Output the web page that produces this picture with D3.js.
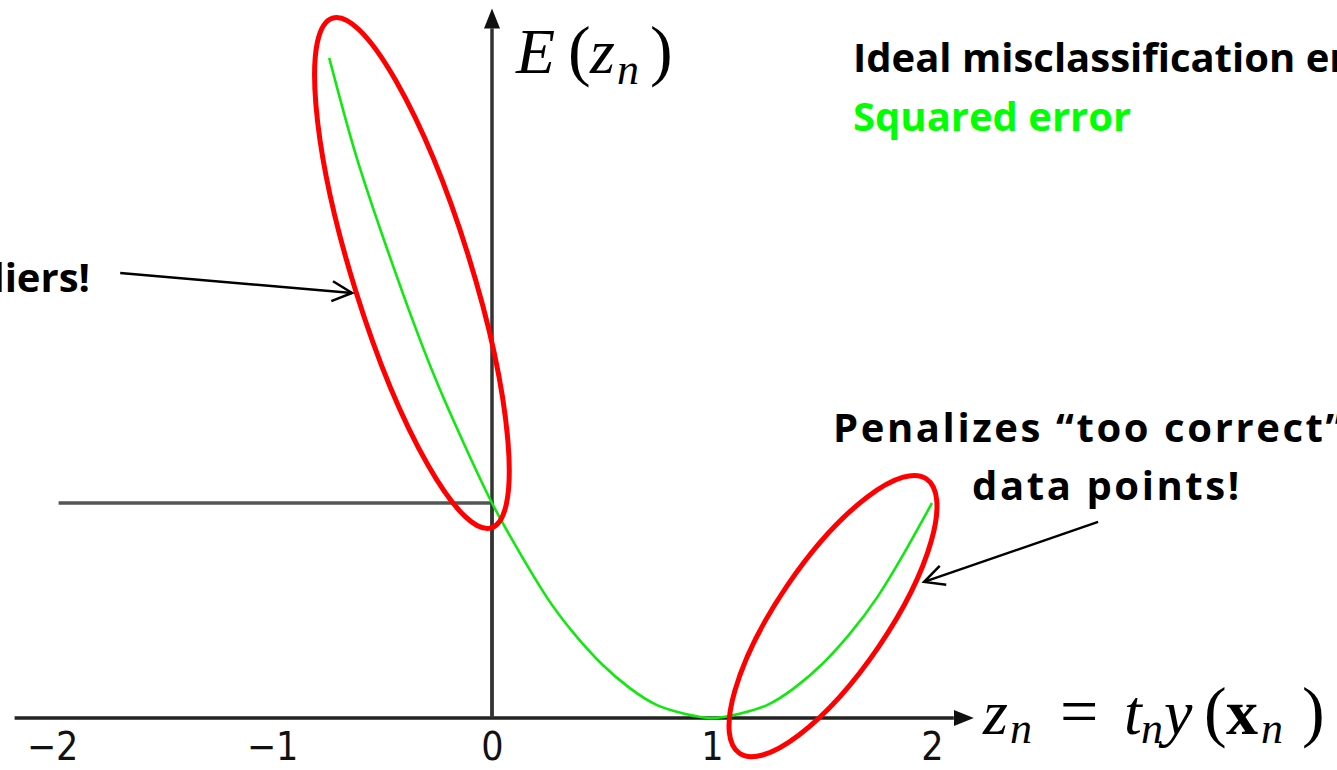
<!DOCTYPE html>
<html>
<head>
<meta charset="utf-8">
<script src="https://cdn.jsdelivr.net/npm/d3@7"></script>
<style>
  body { margin: 0; background: #fff; overflow: hidden; }
  .note { font-family: "Open Sans", "Noto Sans", sans-serif; font-weight: bold; font-size: 40px; }
  .wide { letter-spacing: 2.6px; }
  .math { font-family: "Liberation Serif", "DejaVu Serif", serif; font-size: 64px; fill: #000; }
  .tick text { font-family: "Liberation Sans Narrow", "DejaVu Sans Condensed", sans-serif; font-size: 39px; fill: #111; }
</style>
</head>
<body>
<div id="chart"></div>
<script>
// squared error (z_n -> E)
var sqZ = [-0.74, -0.625, -0.5, -0.375, -0.25, -0.125, 0, 0.125, 0.25, 0.375, 0.5, 0.625, 0.75, 0.875, 1, 1.125, 1.25, 1.375, 1.5, 1.625, 1.75, 1.875, 2];
var sqE = [3.07, 2.64, 2.25, 1.89, 1.56, 1.27, 1.00, 0.77, 0.56, 0.39, 0.25, 0.14, 0.06, 0.02, 0, 0.02, 0.06, 0.14, 0.25, 0.39, 0.56, 0.77, 1.00];

// ideal misclassification error (step), only the left part shows above the axes
var stepZ = [-1.97, 0, 0];
var stepE = [1, 1, 0];

var tickVals = [-2, -1, 0, 1, 2];
var tickLabels = ["\u22122", "\u22121", "0", "1", "2"];

// axis extents (arrow tips)
var xMin = -2.17, xMax = 2.19, yMax = 3.30;

// red circled regions: centre in data units
var ringZ = [-0.364, 1.55];
var ringE = [2.07, 0.474];
var ringRx = [267, 166];
var ringRy = [59, 55];
var ringAngle = [72.7, -55.7];

// annotation arrows: from -> to in data units
var arrowFromZ = [-1.69, 2.755], arrowFromE = [2.07, 0.912];
var arrowToZ = [-0.636, 1.964], arrowToE = [1.977, 0.633];

var width = 1337, height = 770;

var x = d3.scaleLinear().domain([-2, 2]).range([52, 932]);
var y = d3.scaleLinear().domain([0, 1]).range([718, 503]);

var svg = d3.select("#chart").append("svg")
    .attr("width", width)
    .attr("height", height);

var defs = svg.append("defs");
defs.append("marker")
    .attr("id", "tri")
    .attr("markerUnits", "userSpaceOnUse")
    .attr("viewBox", "0 -10 22 20")
    .attr("refX", 0).attr("refY", 0)
    .attr("markerWidth", 22).attr("markerHeight", 20)
    .attr("orient", "auto")
    .append("path")
    .attr("d", "M0,-8L20,0L0,8Z")
    .attr("fill", "#111");
defs.append("marker")
    .attr("id", "open")
    .attr("markerUnits", "userSpaceOnUse")
    .attr("viewBox", "-24 -14 28 28")
    .attr("refX", 0).attr("refY", 0)
    .attr("markerWidth", 28).attr("markerHeight", 28)
    .attr("orient", "auto")
    .append("path")
    .attr("d", "M-20,-10L0,0L-20,10")
    .attr("fill", "none")
    .attr("stroke", "#000")
    .attr("stroke-width", 2.5);

// step line
var stepPts = stepZ.map(function (z, i) { return [z, stepE[i]]; });
svg.append("path")
    .datum(stepPts)
    .attr("d", d3.line().x(function (d) { return x(d[0]); }).y(function (d) { return y(d[1]); }))
    .attr("fill", "none")
    .attr("stroke", "#555")
    .attr("stroke-width", 3.5);

// axes with arrow heads
svg.append("line")
    .attr("x1", x(xMin)).attr("y1", y(0))
    .attr("x2", x(xMax) - 20).attr("y2", y(0))
    .attr("stroke", "#222").attr("stroke-width", 3.5)
    .attr("marker-end", "url(#tri)");
svg.append("line")
    .attr("x1", x(0)).attr("y1", y(0))
    .attr("x2", x(0)).attr("y2", y(yMax) + 20)
    .attr("stroke", "#333").attr("stroke-width", 3.5)
    .attr("marker-end", "url(#tri)");

var xAxis = svg.append("g")
    .attr("transform", "translate(0," + y(0) + ")")
    .call(d3.axisBottom(x).tickValues(tickVals).tickSize(0).tickPadding(14)
        .tickFormat(function (d, i) { return tickLabels[i]; }));
xAxis.select(".domain").remove();

// squared error curve
var sqPts = sqZ.map(function (z, i) { return [z, sqE[i]]; });
svg.append("path")
    .datum(sqPts)
    .attr("d", d3.line().curve(d3.curveNatural)
        .x(function (d) { return x(d[0]); })
        .y(function (d) { return y(d[1]); }))
    .attr("fill", "none")
    .attr("stroke", "#10e810")
    .attr("stroke-width", 2.6);

// red rings
ringZ.forEach(function (z, i) {
    svg.append("ellipse")
        .attr("transform", "translate(" + x(z) + "," + y(ringE[i]) + ") rotate(" + ringAngle[i] + ")")
        .attr("rx", ringRx[i]).attr("ry", ringRy[i])
        .attr("fill", "none")
        .attr("stroke", "#ff0000")
        .attr("stroke-width", 5);
});

// annotation arrows
arrowFromZ.forEach(function (z, i) {
    svg.append("line")
        .attr("x1", x(z)).attr("y1", y(arrowFromE[i]))
        .attr("x2", x(arrowToZ[i])).attr("y2", y(arrowToE[i]))
        .attr("stroke", "#000").attr("stroke-width", 2.5)
        .attr("marker-end", "url(#open)");
});

// notes
svg.append("text").attr("class", "note")
    .attr("x", 90).attr("y", 292)
    .attr("text-anchor", "end")
    .text("Sensitive to outliers!");
svg.append("text").attr("class", "note wide")
    .attr("x", 833).attr("y", 442)
    .text("Penalizes \u201ctoo correct\u201d");
svg.append("text").attr("class", "note wide")
    .attr("x", 972).attr("y", 500)
    .text("data points!");

// legend
svg.append("text").attr("class", "note")
    .attr("x", 853).attr("y", 72)
    .attr("fill", "#000")
    .text("Ideal misclassification error");
svg.append("text").attr("class", "note")
    .attr("x", 853).attr("y", 131)
    .attr("fill", "#00ff00")
    .text("Squared error");

// axis titles
var eLab = svg.append("text").attr("class", "math");
eLab.append("tspan").attr("x", 516).attr("y", 73).style("font-style", "italic").text("E");
eLab.append("tspan").attr("x", 568).attr("y", 73).style("font-size", "68px").text("(");
eLab.append("tspan").attr("x", 590).attr("y", 73).style("font-style", "italic").text("z");
eLab.append("tspan").attr("x", 617).attr("y", 84).style("font-style", "italic").style("font-size", "44px").text("n");
eLab.append("tspan").attr("x", 650).attr("y", 73).style("font-size", "68px").text(")");

var zLab = svg.append("text").attr("class", "math");
zLab.append("tspan").attr("x", 983).attr("y", 734).style("font-style", "italic").text("z");
zLab.append("tspan").attr("x", 1010).attr("y", 743).style("font-style", "italic").style("font-size", "44px").text("n");
zLab.append("tspan").attr("x", 1060).attr("y", 734).style("font-size", "68px").text("=");
zLab.append("tspan").attr("x", 1124).attr("y", 734).style("font-style", "italic").text("t");
zLab.append("tspan").attr("x", 1141).attr("y", 743).style("font-style", "italic").style("font-size", "44px").text("n");
zLab.append("tspan").attr("x", 1164).attr("y", 734).style("font-style", "italic").text("y");
zLab.append("tspan").attr("x", 1204).attr("y", 734).style("font-size", "68px").text("(");
zLab.append("tspan").attr("x", 1226).attr("y", 734).style("font-weight", "bold").text("x");
zLab.append("tspan").attr("x", 1261).attr("y", 743).style("font-style", "italic").style("font-size", "44px").text("n");
zLab.append("tspan").attr("x", 1302).attr("y", 734).style("font-size", "68px").text(")");
</script>
</body>
</html>
